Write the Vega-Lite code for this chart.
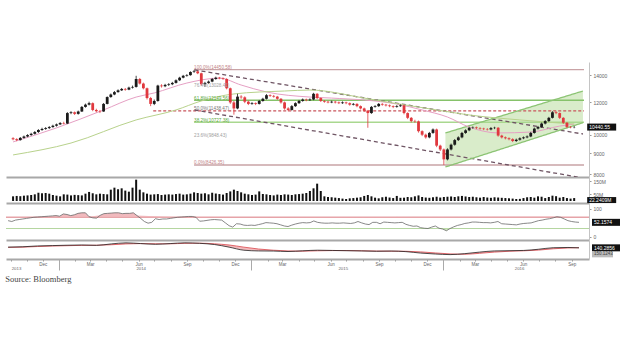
{
"$schema":"https://vega.github.io/schema/vega-lite/v6.json",
"background":"white",
"padding":{"top":62,"left":5,"right":0,"bottom":0},
"autosize":{"type":"pad"},
"bounds":"flush",
"spacing":0,
"config":{"font":"Liberation Sans","view":{"stroke":null},
"axis":{"labelFontSize":5,"labelColor":"#666","tickColor":"#999","tickSize":2,"domainColor":"#c4c4c4","labelPadding":2,"grid":false,"title":null}},
"title":{"text":"Source: Bloomberg","orient":"bottom","anchor":"start","font":"Liberation Serif","fontSize":8.5,"fontWeight":"normal","color":"#444","offset":4},
"datasets":{
"k":[
{"d":"2013-09-26","o":9800,"h":9860,"l":9690,"c":9750,"v":35,"r":58},
{"d":"2013-10-03","o":9750,"h":9800,"l":9640,"c":9700,"v":38,"r":55},
{"d":"2013-10-10","o":9700,"h":9870,"l":9670,"c":9820,"v":36,"r":60},
{"d":"2013-10-17","o":9820,"h":9950,"l":9780,"c":9900,"v":40,"r":62},
{"d":"2013-10-24","o":9900,"h":10030,"l":9860,"c":9980,"v":42,"r":64},
{"d":"2013-10-31","o":9980,"h":10110,"l":9940,"c":10050,"v":45,"r":66},
{"d":"2013-11-07","o":10050,"h":10210,"l":10010,"c":10150,"v":50,"r":68},
{"d":"2013-11-14","o":10150,"h":10320,"l":10100,"c":10270,"v":62,"r":70},
{"d":"2013-11-21","o":10270,"h":10400,"l":10220,"c":10330,"v":58,"r":71},
{"d":"2013-11-28","o":10330,"h":10440,"l":10280,"c":10380,"v":60,"r":72},
{"d":"2013-12-05","o":10380,"h":10500,"l":10330,"c":10440,"v":55,"r":73},
{"d":"2013-12-12","o":10440,"h":10580,"l":10400,"c":10520,"v":45,"r":74},
{"d":"2013-12-19","o":10520,"h":10650,"l":10470,"c":10600,"v":40,"r":75},
{"d":"2013-12-26","o":10600,"h":10740,"l":10560,"c":10680,"v":35,"r":76},
{"d":"2014-01-02","o":10680,"h":10760,"l":10600,"c":10650,"v":50,"r":74},
{"d":"2014-01-09","o":10650,"h":11360,"l":10620,"c":11300,"v":48,"r":82},
{"d":"2014-01-16","o":11300,"h":11420,"l":11230,"c":11350,"v":42,"r":80},
{"d":"2014-01-23","o":11350,"h":11400,"l":11180,"c":11250,"v":46,"r":76},
{"d":"2014-01-30","o":11250,"h":11460,"l":11200,"c":11400,"v":44,"r":79},
{"d":"2014-02-06","o":11400,"h":11760,"l":11370,"c":11700,"v":42,"r":84},
{"d":"2014-02-13","o":11700,"h":11920,"l":11650,"c":11850,"v":55,"r":86},
{"d":"2014-02-20","o":11850,"h":12050,"l":11800,"c":11950,"v":68,"r":86},
{"d":"2014-02-27","o":11950,"h":12000,"l":11420,"c":11500,"v":58,"r":72},
{"d":"2014-03-06","o":11500,"h":11580,"l":11350,"c":11420,"v":50,"r":68},
{"d":"2014-03-13","o":11420,"h":11500,"l":11300,"c":11400,"v":55,"r":67},
{"d":"2014-03-20","o":11400,"h":11960,"l":11380,"c":11900,"v":52,"r":77},
{"d":"2014-03-27","o":11900,"h":12420,"l":11870,"c":12370,"v":50,"r":83},
{"d":"2014-04-03","o":12370,"h":12620,"l":12320,"c":12550,"v":85,"r":84},
{"d":"2014-04-10","o":12550,"h":12800,"l":12500,"c":12720,"v":100,"r":85},
{"d":"2014-04-17","o":12720,"h":12920,"l":12680,"c":12850,"v":88,"r":86},
{"d":"2014-04-24","o":12850,"h":13020,"l":12800,"c":12950,"v":95,"r":86},
{"d":"2014-05-01","o":12950,"h":13020,"l":12820,"c":12900,"v":78,"r":83},
{"d":"2014-05-08","o":12900,"h":13120,"l":12860,"c":13050,"v":70,"r":84},
{"d":"2014-05-15","o":13050,"h":13200,"l":12980,"c":13100,"v":100,"r":84},
{"d":"2014-05-22","o":13100,"h":13950,"l":13050,"c":13700,"v":160,"r":86},
{"d":"2014-05-29","o":13700,"h":13780,"l":13280,"c":13350,"v":85,"r":76},
{"d":"2014-06-05","o":13350,"h":13420,"l":12920,"c":13000,"v":65,"r":66},
{"d":"2014-06-12","o":13000,"h":13050,"l":12200,"c":12300,"v":55,"r":55},
{"d":"2014-06-19","o":12300,"h":12380,"l":11750,"c":11900,"v":48,"r":49},
{"d":"2014-06-26","o":11900,"h":12200,"l":11820,"c":12100,"v":50,"r":52},
{"d":"2014-07-03","o":12100,"h":13260,"l":12050,"c":13200,"v":52,"r":65},
{"d":"2014-07-10","o":13200,"h":13300,"l":13050,"c":13150,"v":45,"r":62},
{"d":"2014-07-17","o":13150,"h":13330,"l":13080,"c":13250,"v":48,"r":64},
{"d":"2014-07-24","o":13250,"h":13380,"l":13170,"c":13300,"v":50,"r":64},
{"d":"2014-07-31","o":13300,"h":13480,"l":13230,"c":13400,"v":48,"r":66},
{"d":"2014-08-07","o":13400,"h":13670,"l":13350,"c":13600,"v":52,"r":68},
{"d":"2014-08-14","o":13600,"h":13870,"l":13540,"c":13800,"v":55,"r":70},
{"d":"2014-08-21","o":13800,"h":14020,"l":13750,"c":13950,"v":48,"r":71},
{"d":"2014-08-28","o":13950,"h":14080,"l":13880,"c":14000,"v":50,"r":72},
{"d":"2014-09-04","o":14000,"h":14310,"l":13960,"c":14250,"v":55,"r":73},
{"d":"2014-09-11","o":14250,"h":14420,"l":14180,"c":14300,"v":65,"r":73},
{"d":"2014-09-18","o":14300,"h":14350,"l":14080,"c":14150,"v":60,"r":70},
{"d":"2014-09-25","o":14150,"h":14200,"l":13200,"c":13300,"v":55,"r":56},
{"d":"2014-10-02","o":13300,"h":13480,"l":13100,"c":13400,"v":58,"r":57},
{"d":"2014-10-09","o":13400,"h":13580,"l":13330,"c":13500,"v":50,"r":59},
{"d":"2014-10-16","o":13500,"h":13780,"l":13450,"c":13700,"v":62,"r":61},
{"d":"2014-10-23","o":13700,"h":13880,"l":13640,"c":13800,"v":56,"r":62},
{"d":"2014-10-30","o":13800,"h":13860,"l":13680,"c":13750,"v":52,"r":61},
{"d":"2014-11-06","o":13750,"h":13820,"l":13630,"c":13700,"v":48,"r":60},
{"d":"2014-11-13","o":13700,"h":13760,"l":12920,"c":13000,"v":60,"r":50},
{"d":"2014-11-20","o":13000,"h":13050,"l":11900,"c":12000,"v":72,"r":40},
{"d":"2014-11-27","o":12000,"h":12100,"l":11200,"c":11600,"v":85,"r":35},
{"d":"2014-12-04","o":11600,"h":12600,"l":11550,"c":12400,"v":75,"r":47},
{"d":"2014-12-11","o":12400,"h":12500,"l":12250,"c":12350,"v":65,"r":46},
{"d":"2014-12-18","o":12350,"h":12420,"l":11950,"c":12050,"v":55,"r":42},
{"d":"2014-12-25","o":12050,"h":12120,"l":11820,"c":11900,"v":50,"r":41},
{"d":"2015-01-01","o":11900,"h":12020,"l":11840,"c":11950,"v":45,"r":42},
{"d":"2015-01-08","o":11950,"h":12000,"l":11820,"c":11900,"v":48,"r":41},
{"d":"2015-01-15","o":11900,"h":12170,"l":11860,"c":12100,"v":72,"r":44},
{"d":"2015-01-22","o":12100,"h":12320,"l":12050,"c":12250,"v":52,"r":47},
{"d":"2015-01-29","o":12250,"h":12580,"l":12200,"c":12500,"v":50,"r":51},
{"d":"2015-02-05","o":12500,"h":12560,"l":12380,"c":12450,"v":45,"r":50},
{"d":"2015-02-12","o":12450,"h":12520,"l":12330,"c":12400,"v":42,"r":49},
{"d":"2015-02-19","o":12400,"h":12450,"l":12180,"c":12250,"v":48,"r":47},
{"d":"2015-02-26","o":12250,"h":12300,"l":11920,"c":12000,"v":45,"r":43},
{"d":"2015-03-05","o":12000,"h":12060,"l":11520,"c":11600,"v":50,"r":39},
{"d":"2015-03-12","o":11600,"h":11680,"l":11420,"c":11500,"v":48,"r":37},
{"d":"2015-03-19","o":11500,"h":11820,"l":11460,"c":11750,"v":45,"r":42},
{"d":"2015-03-26","o":11750,"h":12010,"l":11700,"c":11950,"v":50,"r":46},
{"d":"2015-04-02","o":11950,"h":12170,"l":11900,"c":12100,"v":52,"r":49},
{"d":"2015-04-09","o":12100,"h":12270,"l":12050,"c":12200,"v":55,"r":51},
{"d":"2015-04-16","o":12200,"h":12260,"l":12080,"c":12150,"v":60,"r":50},
{"d":"2015-04-23","o":12150,"h":12280,"l":12100,"c":12200,"v":75,"r":51},
{"d":"2015-04-30","o":12200,"h":12670,"l":12150,"c":12600,"v":95,"r":57},
{"d":"2015-05-07","o":12600,"h":12650,"l":12220,"c":12300,"v":130,"r":52},
{"d":"2015-05-14","o":12300,"h":12350,"l":12030,"c":12100,"v":75,"r":50},
{"d":"2015-05-21","o":12100,"h":12160,"l":11980,"c":12050,"v":35,"r":49},
{"d":"2015-05-28","o":12050,"h":12110,"l":11940,"c":12000,"v":30,"r":49},
{"d":"2015-06-04","o":12000,"h":12120,"l":11950,"c":12050,"v":28,"r":50},
{"d":"2015-06-11","o":12050,"h":12100,"l":11930,"c":12000,"v":25,"r":49},
{"d":"2015-06-18","o":12000,"h":12060,"l":11890,"c":11950,"v":22,"r":49},
{"d":"2015-06-25","o":11950,"h":12070,"l":11900,"c":12000,"v":18,"r":50},
{"d":"2015-07-02","o":12000,"h":12050,"l":11880,"c":11950,"v":15,"r":49},
{"d":"2015-07-09","o":11950,"h":12000,"l":11780,"c":11850,"v":20,"r":48},
{"d":"2015-07-16","o":11850,"h":11960,"l":11800,"c":11900,"v":22,"r":50},
{"d":"2015-07-23","o":11900,"h":11950,"l":11680,"c":11750,"v":25,"r":55},
{"d":"2015-07-30","o":11750,"h":11800,"l":11530,"c":11600,"v":28,"r":50},
{"d":"2015-08-06","o":11600,"h":11650,"l":11380,"c":11450,"v":38,"r":46},
{"d":"2015-08-13","o":11450,"h":11500,"l":10400,"c":11300,"v":45,"r":44},
{"d":"2015-08-20","o":11300,"h":11760,"l":11250,"c":11700,"v":35,"r":52},
{"d":"2015-08-27","o":11700,"h":11820,"l":11650,"c":11750,"v":25,"r":52},
{"d":"2015-09-03","o":11750,"h":11960,"l":11700,"c":11900,"v":20,"r":47},
{"d":"2015-09-10","o":11900,"h":11950,"l":11780,"c":11850,"v":28,"r":53},
{"d":"2015-09-17","o":11850,"h":11900,"l":11730,"c":11800,"v":32,"r":52},
{"d":"2015-09-24","o":11800,"h":11860,"l":11680,"c":11750,"v":26,"r":51},
{"d":"2015-10-01","o":11750,"h":11800,"l":11620,"c":11700,"v":22,"r":50},
{"d":"2015-10-08","o":11700,"h":11820,"l":11650,"c":11750,"v":38,"r":51},
{"d":"2015-10-15","o":11750,"h":11870,"l":11700,"c":11800,"v":24,"r":52},
{"d":"2015-10-22","o":11800,"h":11850,"l":11220,"c":11300,"v":25,"r":45},
{"d":"2015-10-29","o":11300,"h":11350,"l":10920,"c":11000,"v":30,"r":41},
{"d":"2015-11-05","o":11000,"h":11050,"l":10720,"c":10800,"v":28,"r":38},
{"d":"2015-11-12","o":10800,"h":10880,"l":10700,"c":10780,"v":35,"r":39},
{"d":"2015-11-19","o":10780,"h":10830,"l":10120,"c":10200,"v":42,"r":33},
{"d":"2015-11-26","o":10200,"h":10250,"l":9920,"c":10000,"v":30,"r":31},
{"d":"2015-12-03","o":10000,"h":10060,"l":9780,"c":9850,"v":26,"r":30},
{"d":"2015-12-10","o":9850,"h":10160,"l":9800,"c":10100,"v":24,"r":35},
{"d":"2015-12-17","o":10100,"h":10360,"l":10050,"c":10300,"v":28,"r":39},
{"d":"2015-12-24","o":10300,"h":10350,"l":9320,"c":9400,"v":32,"r":31},
{"d":"2015-12-31","o":9400,"h":9450,"l":9120,"c":9200,"v":26,"r":28},
{"d":"2016-01-07","o":9200,"h":9250,"l":8430,"c":8700,"v":30,"r":22},
{"d":"2016-01-14","o":8700,"h":9260,"l":8650,"c":9200,"v":32,"r":30},
{"d":"2016-01-21","o":9200,"h":9510,"l":9150,"c":9450,"v":34,"r":36},
{"d":"2016-01-28","o":9450,"h":9760,"l":9400,"c":9700,"v":30,"r":41},
{"d":"2016-02-04","o":9700,"h":9910,"l":9650,"c":9850,"v":35,"r":44},
{"d":"2016-02-11","o":9850,"h":10160,"l":9800,"c":10100,"v":38,"r":48},
{"d":"2016-02-18","o":10100,"h":10310,"l":10050,"c":10250,"v":34,"r":50},
{"d":"2016-02-25","o":10250,"h":10460,"l":10200,"c":10400,"v":30,"r":53},
{"d":"2016-03-03","o":10400,"h":10480,"l":10340,"c":10420,"v":32,"r":53},
{"d":"2016-03-10","o":10420,"h":10470,"l":10320,"c":10380,"v":28,"r":52},
{"d":"2016-03-17","o":10380,"h":10430,"l":10290,"c":10350,"v":25,"r":51},
{"d":"2016-03-24","o":10350,"h":10400,"l":10260,"c":10320,"v":30,"r":51},
{"d":"2016-03-31","o":10320,"h":10380,"l":10240,"c":10300,"v":26,"r":50},
{"d":"2016-04-07","o":10300,"h":10440,"l":10250,"c":10380,"v":24,"r":52},
{"d":"2016-04-14","o":10380,"h":10460,"l":10320,"c":10400,"v":28,"r":55},
{"d":"2016-04-21","o":10400,"h":10440,"l":9890,"c":9950,"v":26,"r":47},
{"d":"2016-04-28","o":9950,"h":10000,"l":9790,"c":9850,"v":24,"r":46},
{"d":"2016-05-05","o":9850,"h":9900,"l":9740,"c":9800,"v":22,"r":45},
{"d":"2016-05-12","o":9800,"h":9850,"l":9690,"c":9750,"v":20,"r":44},
{"d":"2016-05-19","o":9750,"h":9800,"l":9590,"c":9650,"v":18,"r":43},
{"d":"2016-05-26","o":9650,"h":9780,"l":9600,"c":9720,"v":15,"r":46},
{"d":"2016-06-02","o":9720,"h":9850,"l":9670,"c":9800,"v":16,"r":48},
{"d":"2016-06-09","o":9800,"h":9900,"l":9750,"c":9850,"v":22,"r":49},
{"d":"2016-06-16","o":9850,"h":9960,"l":9800,"c":9900,"v":28,"r":50},
{"d":"2016-06-23","o":9900,"h":10160,"l":9860,"c":10100,"v":30,"r":54},
{"d":"2016-06-30","o":10100,"h":10410,"l":10060,"c":10350,"v":25,"r":58},
{"d":"2016-07-07","o":10350,"h":10510,"l":10300,"c":10450,"v":35,"r":60},
{"d":"2016-07-14","o":10450,"h":10710,"l":10400,"c":10650,"v":32,"r":63},
{"d":"2016-07-21","o":10650,"h":10860,"l":10600,"c":10800,"v":22,"r":65},
{"d":"2016-07-28","o":10800,"h":11060,"l":10750,"c":11000,"v":30,"r":68},
{"d":"2016-08-04","o":11000,"h":11420,"l":10960,"c":11350,"v":40,"r":72},
{"d":"2016-08-11","o":11350,"h":11420,"l":11230,"c":11300,"v":36,"r":70},
{"d":"2016-08-18","o":11300,"h":11340,"l":10930,"c":11000,"v":25,"r":64},
{"d":"2016-08-25","o":11000,"h":11040,"l":10630,"c":10700,"v":30,"r":58},
{"d":"2016-09-01","o":10700,"h":10740,"l":10380,"c":10450,"v":22,"r":55},
{"d":"2016-09-08","o":10450,"h":10500,"l":10370,"c":10430,"v":18,"r":53},
{"d":"2016-09-15","o":10430,"h":10500,"l":10370,"c":10440,"v":22,"r":52}
],
"ma":[
{"id":"p","d":"2013-09-26","p":9600},{"id":"p","d":"2013-12-19","p":10390},{"id":"p","d":"2014-03-20","p":11500},{"id":"p","d":"2014-05-22","p":12370},{"id":"p","d":"2014-06-26","p":12660},{"id":"p","d":"2014-08-28","p":13390},{"id":"p","d":"2014-10-30","p":13770},{"id":"p","d":"2014-12-11","p":13240},{"id":"p","d":"2015-01-29","p":12730},{"id":"p","d":"2015-04-23","p":12370},{"id":"p","d":"2015-06-04","p":12300},{"id":"p","d":"2015-10-08","p":11890},{"id":"p","d":"2015-11-26","p":11500},{"id":"p","d":"2016-01-14","p":11050},{"id":"p","d":"2016-02-25","p":10440},{"id":"p","d":"2016-04-21","p":10100},{"id":"p","d":"2016-06-23","p":10150},{"id":"p","d":"2016-08-18","p":10500},{"id":"p","d":"2016-09-15","p":10620},
{"id":"g","d":"2013-09-26","p":8920},{"id":"g","d":"2014-01-16","p":9540},{"id":"g","d":"2014-05-22","p":10870},{"id":"g","d":"2014-08-07","p":11500},{"id":"g","d":"2014-09-25","p":12100},{"id":"g","d":"2014-11-27","p":12590},{"id":"g","d":"2015-03-05","p":12800},{"id":"g","d":"2015-04-23","p":12870},{"id":"g","d":"2015-08-06","p":12300},{"id":"g","d":"2015-10-01","p":11960},{"id":"g","d":"2015-12-24","p":11500},{"id":"g","d":"2016-02-25","p":11180},{"id":"g","d":"2016-06-02","p":10870},{"id":"g","d":"2016-09-15","p":10620}
],
"tl":[
{"id":"up","d":"2014-09-12","p":14420},{"id":"up","d":"2016-10-02","p":10040},
{"id":"lo","d":"2014-09-12","p":11498},{"id":"lo","d":"2016-10-02","p":7830},
{"id":"c1","d":"2016-01-10","p":8332},{"id":"c1","d":"2016-10-02","p":10700},
{"id":"c2","d":"2016-01-10","p":10097},{"id":"c2","d":"2016-10-02","p":12800}
],
"chan":[{"d":"2016-01-10","lo":8332,"hi":10097},{"d":"2016-10-02","lo":10700,"hi":12800}],
"fibl":[
{"d":"2014-09-11","d2":"2016-10-04","p":14450,"k":"rose"},
{"d":"2014-09-11","d2":"2016-10-04","p":12149,"k":"green"},
{"d":"2014-06-24","d2":"2016-10-04","p":11438,"k":"reddash"},
{"d":"2014-09-11","d2":"2016-10-04","p":10728,"k":"green2"},
{"d":"2014-09-11","d2":"2016-10-04","p":8427,"k":"rose"}
],
"fibt":[
{"d":"2014-09-11","p":14450,"t":"100.0%(14450.58)","k":"rose"},
{"d":"2014-09-11","p":13028,"t":"76.4%(13028.41)","k":"gray"},
{"d":"2014-09-11","p":12149,"t":"61.8%(12149.56)","k":"green"},
{"d":"2014-09-11","p":11438,"t":"50.0%(11438.47)","k":"dark"},
{"d":"2014-09-11","p":10728,"t":"38.2%(10727.38)","k":"green"},
{"d":"2014-09-11","p":9848,"t":"23.6%(9848.43)","k":"gray"},
{"d":"2014-09-11","p":8427,"t":"0.0%(8426.35)","k":"rose"}
],
"macd":[
{"d":"2013-09-26","m":200,"s":180},{"d":"2013-10-24","m":230,"s":200},{"d":"2013-11-21","m":300,"s":250},{"d":"2013-12-19","m":330,"s":290},{"d":"2014-01-16","m":360,"s":320},{"d":"2014-02-13","m":380,"s":350},{"d":"2014-03-13","m":350,"s":360},{"d":"2014-04-10","m":470,"s":400},{"d":"2014-05-08","m":560,"s":470},{"d":"2014-06-05","m":500,"s":500},{"d":"2014-07-03","m":440,"s":480},{"d":"2014-07-31","m":500,"s":480},{"d":"2014-08-28","m":560,"s":520},{"d":"2014-09-25","m":520,"s":530},{"d":"2014-10-23","m":420,"s":480},{"d":"2014-11-20","m":200,"s":380},{"d":"2014-12-18","m":-60,"s":200},{"d":"2015-01-15","m":-120,"s":40},{"d":"2015-02-12","m":-130,"s":-60},{"d":"2015-03-12","m":-170,"s":-120},{"d":"2015-04-09","m":-110,"s":-140},{"d":"2015-05-07","m":-60,"s":-110},{"d":"2015-06-04","m":-80,"s":-90},{"d":"2015-07-02","m":-100,"s":-90},{"d":"2015-07-30","m":-120,"s":-110},{"d":"2015-08-27","m":-150,"s":-130},{"d":"2015-09-24","m":-130,"s":-140},{"d":"2015-10-22","m":-180,"s":-150},{"d":"2015-11-19","m":-300,"s":-200},{"d":"2015-12-17","m":-380,"s":-290},{"d":"2016-01-14","m":-430,"s":-370},{"d":"2016-02-11","m":-350,"s":-400},{"d":"2016-03-10","m":-220,"s":-320},{"d":"2016-04-07","m":-120,"s":-220},{"d":"2016-05-05","m":-100,"s":-150},{"d":"2016-06-02","m":-80,"s":-110},{"d":"2016-06-30","m":20,"s":-50},{"d":"2016-07-28","m":150,"s":60},{"d":"2016-08-25","m":170,"s":130},{"d":"2016-09-15","m":140,"s":150}
],
"last":[{"d":"2016-09-15","c":10440,"v":22,"r":52,"m":140,"tc":"10440.55","tv":"22.2409M","tr":"52.1574","tm":"140.2856","ts":"150.1243"}]
},
"vconcat":[
{"width":583,"height":115,
"resolve":{"scale":{"color":"independent","strokeDash":"independent"}},
"layer":[
{"data":{"name":"chan"},"mark":{"type":"area","color":"#cfe7bd","opacity":0.8,"clip":true},
"encoding":{"x":{"field":"d","type":"temporal","scale":{"domain":[{"year":2013,"month":9,"date":22},{"year":2016,"month":10,"date":4}],"nice":false},"axis":{"orient":"bottom","labels":false,"ticks":false,"domainColor":"#a8a8a8","domainWidth":2}},
"y":{"field":"lo","type":"quantitative","scale":{"type":"log","domain":[7874,15080],"nice":false,"zero":false},"axis":{"orient":"right","values":[8000,9000,10000,12000,14000],"format":"d"}},
"y2":{"field":"hi"}}},
{"data":{"name":"fibl"},"mark":{"type":"rule","strokeWidth":1.3},
"encoding":{"x":{"field":"d","type":"temporal"},"x2":{"field":"d2"},"y":{"field":"p","type":"quantitative"},
"color":{"field":"k","type":"nominal","legend":null,"scale":{"domain":["rose","green","green2","reddash"],"range":["#c9a3a6","#86c26a","#a9d88f","#c9555c"]}},
"strokeDash":{"field":"k","type":"nominal","legend":null,"scale":{"domain":["rose","green","green2","reddash"],"range":[[1,0],[1,0],[1,0],[3,2]]}}}},
{"data":{"name":"tl"},"mark":{"type":"line","strokeWidth":1.3,"clip":true},
"encoding":{"x":{"field":"d","type":"temporal"},"y":{"field":"p","type":"quantitative"},"detail":{"field":"id"},
"color":{"field":"id","type":"nominal","legend":null,"scale":{"domain":["up","lo","c1","c2"],"range":["#6f5564","#6f5564","#8cc474","#8cc474"]}},
"strokeDash":{"field":"id","type":"nominal","legend":null,"scale":{"domain":["up","lo","c1","c2"],"range":[[4,3],[4,3],[1,0],[1,0]]}}}},
{"data":{"name":"ma"},"mark":{"type":"line","strokeWidth":1,"interpolate":"monotone"},
"encoding":{"x":{"field":"d","type":"temporal"},"y":{"field":"p","type":"quantitative"},
"color":{"field":"id","type":"nominal","legend":null,"scale":{"domain":["p","g"],"range":["#e6a0c4","#b8d28c"]}}}},
{"data":{"name":"k"},"mark":{"type":"rule","strokeWidth":0.8},
"encoding":{"x":{"field":"d","type":"temporal"},"y":{"field":"l","type":"quantitative"},"y2":{"field":"h"},
"color":{"condition":{"test":"datum.c < datum.o","value":"#e0383e"},"value":"#1a1a1a"}}},
{"data":{"name":"k"},"mark":{"type":"bar","size":2.8},
"encoding":{"x":{"field":"d","type":"temporal"},"y":{"field":"o","type":"quantitative"},"y2":{"field":"c"},
"color":{"condition":{"test":"datum.c < datum.o","value":"#e0383e"},"value":"#1a1a1a"}}},
{"data":{"name":"fibt"},"mark":{"type":"text","align":"left","baseline":"bottom","fontSize":4.6,"dy":0.5},
"encoding":{"x":{"field":"d","type":"temporal"},"y":{"field":"p","type":"quantitative"},"text":{"field":"t"},
"color":{"field":"k","type":"nominal","legend":null,"scale":{"domain":["rose","gray","green","dark"],"range":["#c27f86","#a0a0a0","#5aa83c","#777777"]}}}},
{"data":{"name":"last"},"mark":{"type":"rect","color":"#111","xOffset":13,"x2Offset":42,"yOffset":-3.5,"y2Offset":3.5},
"encoding":{"x":{"field":"d","type":"temporal"},"x2":{"field":"d"},"y":{"field":"c","type":"quantitative"},"y2":{"field":"c"}}},
{"data":{"name":"last"},"mark":{"type":"text","align":"left","baseline":"middle","fontSize":5,"dx":15,"color":"white"},
"encoding":{"x":{"field":"d","type":"temporal"},"y":{"field":"c","type":"quantitative"},"text":{"field":"tc"}}}
]},
{"width":583,"height":26,
"layer":[
{"data":{"name":"k"},"mark":{"type":"bar","size":2,"color":"#111"},
"encoding":{"x":{"field":"d","type":"temporal","scale":{"domain":[{"year":2013,"month":9,"date":22},{"year":2016,"month":10,"date":4}],"nice":false},"axis":{"orient":"bottom","labels":false,"ticks":false,"domainColor":"#a8a8a8","domainWidth":2}},
"y":{"field":"v","type":"quantitative","scale":{"domain":[-15,180],"nice":false,"zero":false},"axis":{"orient":"right","values":[50,100,150],"labelExpr":"datum.value + 'M'"}},"y2":{"datum":0}}},
{"data":{"name":"last"},"mark":{"type":"rect","color":"#111","xOffset":13,"x2Offset":42,"yOffset":-1,"y2Offset":5},
"encoding":{"x":{"field":"d","type":"temporal"},"x2":{"field":"d"},"y":{"field":"v","type":"quantitative"},"y2":{"field":"v"}}},
{"data":{"name":"last"},"mark":{"type":"text","align":"left","baseline":"middle","fontSize":5,"dx":15,"dy":2,"color":"white"},
"encoding":{"x":{"field":"d","type":"temporal"},"y":{"field":"v","type":"quantitative"},"text":{"field":"tv"}}}
]},
{"width":583,"height":37,
"layer":[
{"data":{"values":[{}]},"mark":{"type":"rule","color":"#e6a3a8","strokeWidth":1.5},
"encoding":{"y":{"datum":70,"type":"quantitative","scale":{"domain":[-11,121],"nice":false,"zero":false},"axis":{"orient":"right","values":[0,100]}}}},
{"data":{"values":[{}]},"mark":{"type":"rule","color":"#b5d6a0","strokeWidth":1},
"encoding":{"y":{"datum":30,"type":"quantitative"}}},
{"data":{"name":"k"},"transform":[{"filter":"datum.r >= 70"}],"mark":{"type":"area","color":"#f0b3b7","opacity":0.9},
"encoding":{"x":{"field":"d","type":"temporal","scale":{"domain":[{"year":2013,"month":9,"date":22},{"year":2016,"month":10,"date":4}],"nice":false},"axis":{"orient":"bottom","labels":false,"ticks":false,"domainColor":"#a8a8a8","domainWidth":2}},"y":{"field":"r","type":"quantitative"},"y2":{"datum":70}}},
{"data":{"name":"k"},"transform":[{"filter":"datum.r <= 30"}],"mark":{"type":"area","color":"#c8e3b4","opacity":0.9},
"encoding":{"x":{"field":"d","type":"temporal"},"y":{"field":"r","type":"quantitative"},"y2":{"datum":30}}},
{"data":{"name":"k"},"mark":{"type":"line","color":"#6a6a6a","strokeWidth":0.8},
"encoding":{"x":{"field":"d","type":"temporal"},"y":{"field":"r","type":"quantitative"}}},
{"data":{"name":"last"},"mark":{"type":"rect","color":"#111","xOffset":13,"x2Offset":42,"yOffset":-3.5,"y2Offset":3.5},
"encoding":{"x":{"field":"d","type":"temporal"},"x2":{"field":"d"},"y":{"field":"r","type":"quantitative"},"y2":{"field":"r"}}},
{"data":{"name":"last"},"mark":{"type":"text","align":"left","baseline":"middle","fontSize":5,"dx":15,"color":"white"},
"encoding":{"x":{"field":"d","type":"temporal"},"y":{"field":"r","type":"quantitative"},"text":{"field":"tr"}}}
]},
{"width":583,"height":19,
"resolve":{"axis":{"x":"independent"}},
"layer":[
{"data":{"name":"macd"},"mark":{"type":"area","color":"#f2b3b6","opacity":0.9},
"encoding":{"x":{"field":"d","type":"temporal","scale":{"domain":[{"year":2013,"month":9,"date":22},{"year":2016,"month":10,"date":4}],"nice":false},
"axis":{"orient":"bottom","values":[{"year":2013,"month":10,"date":1},{"year":2013,"month":11,"date":1},{"year":2013,"month":12,"date":1},{"year":2014,"month":1,"date":1},{"year":2014,"month":2,"date":1},{"year":2014,"month":3,"date":1},{"year":2014,"month":4,"date":1},{"year":2014,"month":5,"date":1},{"year":2014,"month":6,"date":1},{"year":2014,"month":7,"date":1},{"year":2014,"month":8,"date":1},{"year":2014,"month":9,"date":1},{"year":2014,"month":10,"date":1},{"year":2014,"month":11,"date":1},{"year":2014,"month":12,"date":1},{"year":2015,"month":1,"date":1},{"year":2015,"month":2,"date":1},{"year":2015,"month":3,"date":1},{"year":2015,"month":4,"date":1},{"year":2015,"month":5,"date":1},{"year":2015,"month":6,"date":1},{"year":2015,"month":7,"date":1},{"year":2015,"month":8,"date":1},{"year":2015,"month":9,"date":1},{"year":2015,"month":10,"date":1},{"year":2015,"month":11,"date":1},{"year":2015,"month":12,"date":1},{"year":2016,"month":1,"date":1},{"year":2016,"month":2,"date":1},{"year":2016,"month":3,"date":1},{"year":2016,"month":4,"date":1},{"year":2016,"month":5,"date":1},{"year":2016,"month":6,"date":1},{"year":2016,"month":7,"date":1},{"year":2016,"month":8,"date":1},{"year":2016,"month":9,"date":1}],
"labelExpr":"month(datum.value) % 3 == 2 ? timeFormat(datum.value, '%b') : ''","labelOverlap":false,"labelFlush":false,"domainColor":"#a8a8a8","domainWidth":2,"tickSize":2,"labelFontSize":4.5,"labelPadding":0}},
"y":{"field":"m","type":"quantitative","scale":{"domain":[-800,800],"nice":false,"zero":false},"axis":{"orient":"right","values":[],"domainColor":"#c4c4c4"}},"y2":{"field":"s"}}},
{"data":{"name":"macd"},"mark":{"type":"line","color":"#d9464b","strokeWidth":0.8,"interpolate":"monotone"},
"encoding":{"x":{"field":"d","type":"temporal","axis":{"orient":"bottom","values":[{"year":2013,"month":10,"date":11},{"year":2014,"month":6,"date":5},{"year":2015,"month":6,"date":24},{"year":2016,"month":5,"date":24}],"format":"%Y","domain":false,"ticks":false,"offset":7.5,"labelPadding":0,"labelFontSize":4.3,"labelFlush":false}},"y":{"field":"s","type":"quantitative"}}},
{"data":{"name":"macd"},"mark":{"type":"line","color":"#222","strokeWidth":0.8,"interpolate":"monotone"},
"encoding":{"x":{"field":"d","type":"temporal","axis":{"orient":"bottom","values":[{"year":2014,"month":1,"date":1},{"year":2015,"month":1,"date":1},{"year":2016,"month":1,"date":1}],"labels":false,"domain":false,"tickSize":11,"tickColor":"#aaa"}},"y":{"field":"m","type":"quantitative"}}},
{"data":{"name":"last"},"mark":{"type":"rect","color":"#111","xOffset":13,"x2Offset":42,"yOffset":-3.5,"y2Offset":3.5},
"encoding":{"x":{"field":"d","type":"temporal","axis":null},"x2":{"field":"d"},"y":{"field":"m","type":"quantitative"},"y2":{"field":"m"}}},
{"data":{"name":"last"},"mark":{"type":"text","align":"left","baseline":"middle","fontSize":5,"dx":15,"color":"white"},
"encoding":{"x":{"field":"d","type":"temporal","axis":null},"y":{"field":"m","type":"quantitative"},"text":{"field":"tm"}}},
{"data":{"name":"last"},"mark":{"type":"rect","color":"#bbbbbb","xOffset":13,"x2Offset":34,"yOffset":3.5,"y2Offset":9.5},
"encoding":{"x":{"field":"d","type":"temporal","axis":null},"x2":{"field":"d"},"y":{"field":"m","type":"quantitative"},"y2":{"field":"m"}}},
{"data":{"name":"last"},"mark":{"type":"text","align":"left","baseline":"middle","fontSize":4.5,"dx":15,"dy":6.5,"color":"#444"},
"encoding":{"x":{"field":"d","type":"temporal","axis":null},"y":{"field":"m","type":"quantitative"},"text":{"field":"ts"}}}
]}
]
}
